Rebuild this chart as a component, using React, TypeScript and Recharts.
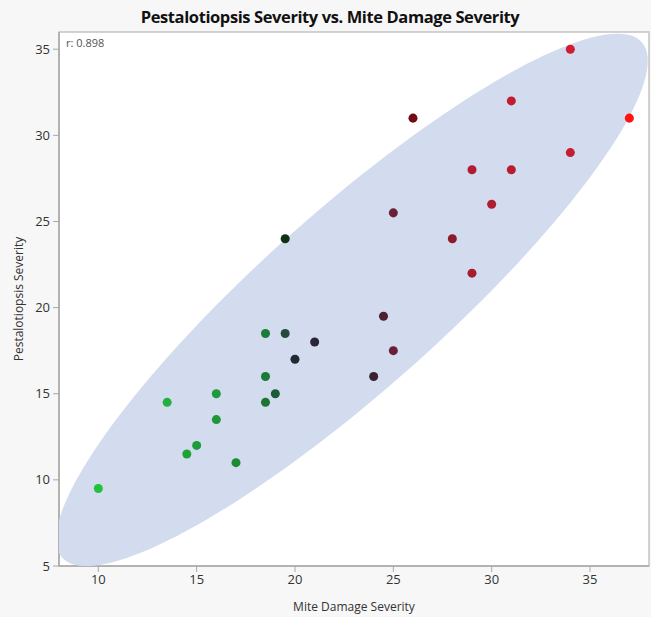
import React from "react";
import {
  ScatterChart,
  Scatter,
  XAxis,
  YAxis,
  ZAxis,
  Cell,
  CartesianGrid,
  ReferenceArea,
} from "recharts";

// Mite damage severity (x) and Pestalotiopsis severity (y), one entry per plant
const MITE_DAMAGE = [
  10, 13.5, 14.5, 15, 16, 16, 17, 18.5, 18.5, 18.5, 19, 19.5, 19.5, 20, 21,
  24, 24.5, 25, 25, 26, 28, 29, 29, 30, 31, 31, 34, 34, 37,
];
const PESTALOTIOPSIS = [
  9.5, 14.5, 11.5, 12, 15, 13.5, 11, 18.5, 16, 14.5, 15, 18.5, 24, 17, 18,
  16, 19.5, 17.5, 25.5, 31, 24, 28, 22, 26, 32, 28, 35, 29, 31,
];
const POINT_COLORS = [
  "#20c23a", "#22b040", "#1ea336", "#1e9c38", "#1e9a3a", "#1e963a", "#1e8a35",
  "#1c7a3a", "#1c7a38", "#1c7535", "#1b5c37", "#244a3c", "#0f3212", "#1d2c33",
  "#2b2637", "#3b2232", "#4c2133", "#6a1f36", "#6a2036", "#720b12", "#8c1a2b",
  "#b21c31", "#a81c31", "#b01c31", "#c21c31", "#b81c31", "#d21c31", "#c81c31",
  "#ff1212",
];

const X_TICKS = [10, 15, 20, 25, 30, 35];
const Y_TICKS = [5, 10, 15, 20, 25, 30, 35];
const R_LABEL = "r: 0.898";

const points = MITE_DAMAGE.map((x, i) => ({ x, y: PESTALOTIOPSIS[i] }));

// bivariate normal density ellipse built from the sample mean and covariance
function densityEllipse(xs: number[], ys: number[], level: number, steps: number) {
  const k = Math.sqrt(-2 * Math.log(1 - level));
  const n = xs.length;
  const mx = xs.reduce((a, b) => a + b, 0) / n;
  const my = ys.reduce((a, b) => a + b, 0) / n;
  let sxx = 0;
  let syy = 0;
  let sxy = 0;
  for (let i = 0; i < n; i++) {
    sxx += (xs[i] - mx) ** 2;
    syy += (ys[i] - my) ** 2;
    sxy += (xs[i] - mx) * (ys[i] - my);
  }
  sxx /= n - 1;
  syy /= n - 1;
  sxy /= n - 1;
  const tr = sxx + syy;
  const det = sxx * syy - sxy * sxy;
  const disc = Math.sqrt(tr * tr / 4 - det);
  const a = k * Math.sqrt(tr / 2 + disc);
  const b = k * Math.sqrt(tr / 2 - disc);
  const theta = 0.5 * Math.atan2(2 * sxy, sxx - syy);
  const out: { x: number; y: number }[] = [];
  for (let s = 0; s <= steps; s++) {
    const t = (2 * Math.PI * s) / steps;
    out.push({
      x: mx + a * Math.cos(t) * Math.cos(theta) - b * Math.sin(t) * Math.sin(theta),
      y: my + a * Math.cos(t) * Math.sin(theta) + b * Math.sin(t) * Math.cos(theta),
    });
  }
  return out;
}

const ellipse = densityEllipse(MITE_DAMAGE, PESTALOTIOPSIS, 0.9, 160);

const FONT = "'Open Sans', 'Noto Sans', sans-serif";
const tickStyle = { fontSize: 13, fill: "#333", fontFamily: FONT };

export default function App() {
  return (
    <div
      style={{
        position: "absolute",
        left: 0,
        top: 0,
        width: 651,
        height: 617,
        background: "#f7f7f7",
        fontFamily: FONT,
      }}
    >
      <div
        style={{
          position: "absolute",
          top: 5,
          left: 0,
          width: 660,
          textAlign: "center",
          fontSize: 16.5,
          fontWeight: 700,
          color: "#111",
          letterSpacing: -0.4,
        }}
      >
        Pestalotiopsis Severity vs. Mite Damage Severity
      </div>
      <ScatterChart
        width={651}
        height={617}
        margin={{ top: 32, right: 2, bottom: 0, left: 0 }}
      >
        <CartesianGrid horizontal={false} vertical={false} fill="#ffffff" />
        <XAxis
          type="number"
          dataKey="x"
          domain={[8, 38]}
          ticks={X_TICKS}
          allowDataOverflow
          height={51}
          tick={tickStyle}
          tickSize={6}
          tickMargin={3}
          axisLine={{ stroke: "#a8a8a8", strokeWidth: 1.5 }}
          tickLine={{ stroke: "#a8a8a8" }}
          label={{
            value: "Mite Damage Severity",
            position: "insideBottom",
            offset: 6,
            style: { fontSize: 12, fill: "#333", fontFamily: FONT },
          }}
        />
        <YAxis
          type="number"
          dataKey="y"
          domain={[5, 36]}
          ticks={Y_TICKS}
          allowDataOverflow
          width={59}
          tick={tickStyle}
          tickSize={6}
          tickMargin={3}
          axisLine={{ stroke: "#a8a8a8", strokeWidth: 1.5 }}
          tickLine={{ stroke: "#a8a8a8" }}
          label={{
            value: "Pestalotiopsis Severity",
            angle: -90,
            position: "insideLeft",
            offset: 19,
            style: { fontSize: 12, fill: "#333", fontFamily: FONT, textAnchor: "middle" },
          }}
        />
        <ZAxis range={[38, 38]} />
        <Scatter
          data={ellipse}
          line={{ fill: "#d3dcee", stroke: "none" }}
          lineType="joint"
          shape={() => <g />}
          isAnimationActive={false}
        />
        <Scatter data={points} shape="circle" isAnimationActive={false}>
          {points.map((_, i) => (
            <Cell key={i} fill={POINT_COLORS[i]} />
          ))}
        </Scatter>
        <ReferenceArea
          x1={8}
          x2={38}
          y1={5}
          y2={36}
          fill="none"
          stroke="#c4c4c4"
          strokeWidth={1.5}
          ifOverflow="visible"
          label={{
            value: R_LABEL,
            position: "insideTopLeft",
            offset: 7,
            style: { fontSize: 11, fill: "#555", fontFamily: FONT },
          }}
        />
      </ScatterChart>
    </div>
  );
}
